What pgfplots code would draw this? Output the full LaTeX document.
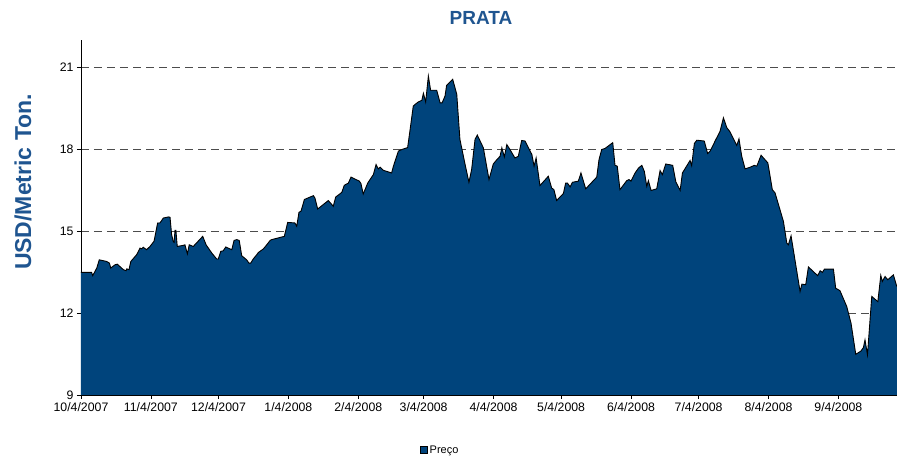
\documentclass[border=0pt]{standalone}
\usepackage{fontspec}
\setmainfont{Liberation Sans}
\usepackage{pgfplots}
\usepackage{pgfplotstable}
\pgfplotsset{compat=1.18}
\definecolor{fillblue}{HTML}{00447C}
\definecolor{titleblue}{HTML}{1F5590}
\pgfplotstableread{
day val
0 13.49
4.7 13.49
5.2 13.37
7.0 13.65
8.1 13.95
11.4 13.89
12.6 13.83
13.2 13.65
15.1 13.77
16.1 13.79
18.8 13.59
20.0 13.55
20.3 13.62
21.3 13.59
22.1 13.89
24.7 14.14
26.2 14.38
26.9 14.35
27.6 14.41
29.1 14.32
30.6 14.44
32.4 14.63
34.0 15.30
35.0 15.30
35.8 15.39
36.5 15.48
38.7 15.52
39.5 15.51
40.2 14.87
40.9 14.63
41.3 14.59
41.7 15.03
42.1 15.03
42.7 14.44
45.4 14.48
46.1 14.50
47.2 14.17
48.0 14.50
49.8 14.44
54.0 14.81
55.5 14.50
58.0 14.20
60.2 13.98
60.9 13.98
62.0 14.26
63.1 14.28
64.2 14.42
66.1 14.35
66.9 14.32
67.9 14.66
69.1 14.69
70.2 14.66
71.3 14.10
73.5 13.95
74.5 13.83
75.3 13.83
76.4 13.98
78.0 14.14
78.7 14.22
80.9 14.35
82.4 14.50
83.9 14.66
84.6 14.69
90.2 14.81
91.7 15.32
94.9 15.30
95.7 15.18
96.7 15.69
97.6 15.73
99.1 16.16
103.1 16.30
103.8 16.21
105.0 15.81
106.5 15.91
109.7 16.12
110.9 16.01
111.9 15.91
113.0 16.25
115.7 16.42
116.8 16.68
118.6 16.76
119.8 16.98
123.5 16.83
124.2 16.74
125.2 16.36
127.2 16.76
129.7 17.07
130.9 17.44
131.9 17.28
132.7 17.34
134.1 17.23
137.8 17.13
138.6 17.38
140.8 17.93
142.3 17.99
144.9 18.06
146.0 18.72
147.4 19.58
148.2 19.64
149.6 19.73
151.2 19.79
151.9 20.05
152.9 19.73
154.1 20.68
155.1 20.16
157.8 20.16
159.3 19.70
160.2 19.70
161.5 19.95
162.2 20.34
164.9 20.56
166.7 20.01
168.1 18.36
170.4 17.44
172.1 16.79
173.3 17.26
174.8 18.36
175.8 18.52
178.5 18.05
181.0 16.89
182.9 17.46
184.7 17.64
185.9 17.74
186.7 18.05
187.8 17.72
188.9 18.17
190.3 17.99
192.5 17.68
194.0 17.74
195.5 18.32
197.0 18.30
200.0 17.81
201.0 17.38
201.9 17.68
203.6 16.67
207.3 17.01
208.8 16.58
209.8 16.52
211.0 16.12
214.0 16.38
215.0 16.76
215.8 16.76
217.0 16.62
218.0 16.79
220.6 16.83
221.8 17.13
223.9 16.55
228.8 16.98
229.8 17.62
231.0 17.99
232.5 18.03
235.9 18.24
236.9 17.41
237.9 17.38
239.1 16.52
242.1 16.85
243.1 16.89
244.0 16.83
245.8 17.13
247.3 17.31
248.8 17.41
249.9 17.19
251.0 16.64
251.7 16.85
252.9 16.49
255.4 16.55
256.9 17.22
257.9 17.07
259.4 17.46
262.5 17.41
263.9 16.80
265.8 16.49
266.8 17.13
270.2 17.59
270.9 17.40
272.1 18.21
273.2 18.33
276.5 18.30
278.0 17.84
279.1 17.93
281.3 18.30
283.5 18.66
285.0 19.15
286.5 18.79
287.9 18.64
290.9 18.14
291.9 18.38
293.1 17.75
294.6 17.28
296.8 17.34
298.7 17.41
299.8 17.38
301.7 17.78
304.7 17.50
306.7 16.52
307.9 16.40
311.6 15.36
313.1 14.57
313.8 14.50
315.0 14.83
319.0 12.79
319.8 13.06
321.5 13.04
322.7 13.69
326.8 13.37
327.9 13.55
328.9 13.49
329.8 13.61
333.8 13.61
334.8 12.91
336.7 12.82
339.7 12.24
341.6 11.63
343.7 10.49
346.0 10.61
347.1 10.74
347.8 11.02
348.9 10.47
350.8 12.61
353.5 12.42
354.8 13.38
355.5 13.16
356.7 13.34
357.9 13.22
360.4 13.40
361.9 12.97
}\silver
\begin{document}
\begin{tikzpicture}[x=1pt,y=1pt]
\path[use as bounding box] (-81,-62) rectangle (816,395);
\begin{axis}[at={(0,0)}, anchor=south west,
  width=816pt, height=355pt, scale only axis,
  xmin=0, xmax=362, ymin=9, ymax=22,
  axis lines*=left,
  axis line style={black, line width=0.8pt},
  tick align=outside, major tick length=4pt,
  tick style={black, line width=0.6pt},
  xtick={0,31,61,92,123,152,183,213,244,274,305,336},
  xticklabels={10/4/2007,11/4/2007,12/4/2007,1/4/2008,2/4/2008,3/4/2008,4/4/2008,5/4/2008,6/4/2008,7/4/2008,8/4/2008,9/4/2008},
  ytick={9,12,15,18,21},
  yticklabels={9,12,15,18,21},
  /pgf/number format/assume math mode=true,
  ticklabel style={font=\fontsize{12.3}{14}\selectfont},
  ymajorgrids,
  major grid style={gray!60!black, line width=0.8pt, dash pattern=on 8pt off 5pt},
  legend style={draw=none, at={(axis description cs:0.44,-0.155)}, anchor=center,
    font=\fontsize{11}{13}\selectfont, inner sep=1pt},
  legend image code/.code={\draw[fill=fillblue,draw=black,line width=0.5pt] (0pt,-3.6pt) rectangle (7.5pt,3.6pt);},
]
\addplot[fill=fillblue, draw=none] table[x=day,y=val] {\silver} \closedcycle;
\addlegendentry{Preço}
\addplot[black, line width=0.9pt, forget plot] table[x=day,y=val] {\silver};
\end{axis}
\node[font=\bfseries\fontsize{19}{22}\selectfont, text=titleblue] at (400,377) {PRATA};
\node[font=\bfseries\fontsize{23}{26}\selectfont, text=titleblue, rotate=90] at (-58,213) {USD/Metric Ton.};
\end{tikzpicture}
\end{document}
